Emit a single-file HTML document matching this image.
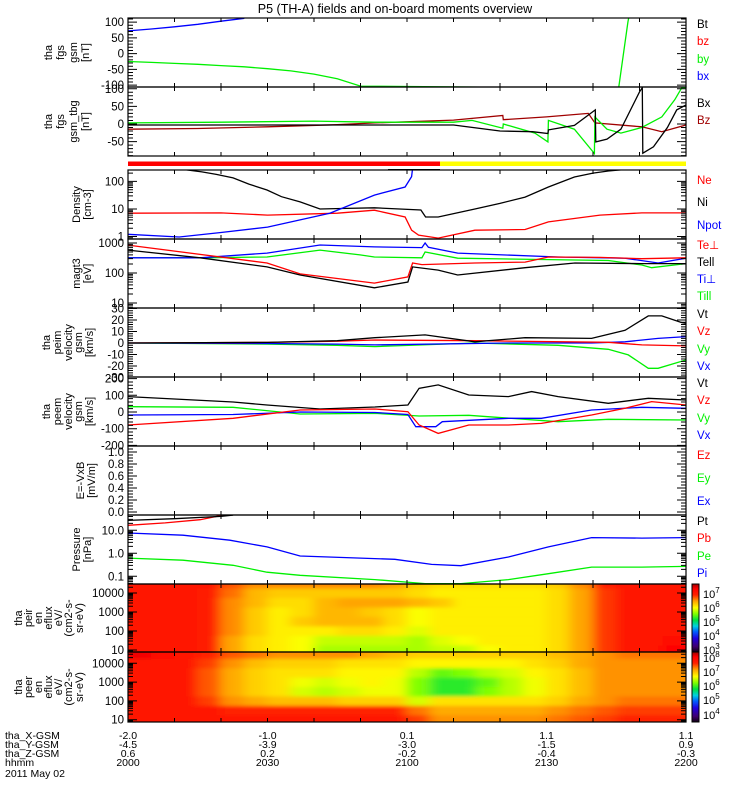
<!DOCTYPE html>
<html><head><meta charset="utf-8">
<style>
html,body{margin:0;padding:0;background:#fff;}
svg{display:block;font-family:"Liberation Sans",sans-serif;}
</style></head>
<body>
<svg id="chart" width="750" height="800" viewBox="0 0 750 800" xmlns="http://www.w3.org/2000/svg">
<defs>
<filter id="blur" x="-5%" y="-5%" width="110%" height="110%"><feGaussianBlur stdDeviation="6 1.8"/></filter>
<linearGradient id="cmap" x1="0" y1="1" x2="0" y2="0">
<stop offset="0" stop-color="#100010"/><stop offset="0.08" stop-color="#400070"/><stop offset="0.2" stop-color="#2000e0"/>
<stop offset="0.3" stop-color="#0060ff"/><stop offset="0.38" stop-color="#00d0e0"/><stop offset="0.47" stop-color="#00e040"/>
<stop offset="0.56" stop-color="#80ff00"/><stop offset="0.65" stop-color="#ffff00"/><stop offset="0.75" stop-color="#ffa000"/>
<stop offset="0.84" stop-color="#ff2000"/><stop offset="0.93" stop-color="#ff0000"/><stop offset="1" stop-color="#a00000"/>
</linearGradient>
</defs>
<text x="395" y="13" font-size="12.5" text-anchor="middle">P5 (TH-A) fields and on-board moments overview</text>
</svg>
<script>
// ---------- data ----------
const fgsBxT=[0,5,10,15,20,25];
const fgsBxV=[72,78,85,93,103,112];
const fgsByT=[0,5,10,15,20,25,30,35,40,45,50,105.5,107.5,110];
const fgsByV=[-25,-28,-31,-34,-38,-42,-48,-55,-65,-80,-103,-110,100,300];

const tbgBxT=[0,40,53,70,80,87,90.3,90.4,96,100.5,100.6,103,106,110,110.6,110.7,113,116,118,120];
const tbgBxV=[-3,-3,-3,-3,-20,-22,-27,-17,-4,40,-51,-43,-15,91,103,-83,-65,-10,40,54];
const tbgByT=[0,20,40,53,70,74,80.6,80.7,87.5,90.3,90.4,96,100.3,100.4,103,106,110.5,114.8,117.6,119.1,120];
const tbgByV=[3,5,8,5,5,10,-12,0,-26,-51,10,-15,-84,20,-15,-26,-10,20,69,103,103];
const tbgBzT=[0,15,30,45,53,70,80.6,80.7,90,99,100.4,110.5,114.8,120];
const tbgBzV=[-15,-13,-8,-2,3,11,24,12,20,30,3,-8,-22,-3];

const niT=[0,15.9,19,22.6,26,29.9,33,37,41.3,47,53,63,64,66.7,74.6,80,85.4,90.4,96,100,103.3,106,120];
const niV=[500,222,180,134,80,49,28,18,10,10.5,11,9.2,5.1,5.1,10,16,27,63,145,200,240,265,265];
const neT=[0,20,30,45,53,59.6,61,62.5,66.7,74.6,85.4,90.4,101.5,110.5,120];
const neV=[7,7.2,6,7,9,5.1,1.7,1.13,0.88,1.7,1.8,3.4,6,7.2,7.2];
const npT=[0,11,20,30,37,43.4,53,59.6,61,61.2];
const npV=[1.2,0.96,1.4,2.2,4,7,32,63,150,300];

const tePerpT=[0,29.9,37,53,60.2,61.2,63.2,74.6,85.4,90.4,101.5,110.5,120];
const tePerpV=[850,215,93,46,74,215,190,215,230,340,330,300,320];
const teParT=[0,15.5,29.9,37,53,60.2,61.2,66.7,70.9,85.4,96.1,110.5,120];
const teParV=[580,320,160,86,32,50,160,125,86,150,215,205,205];
const tiPerpT=[0,15.5,29.9,41.3,53,63.2,63.9,64.6,70.9,92.5,106.9,114,120];
const tiPerpV=[320,320,460,860,740,700,1000,720,460,340,310,215,310];
const tiParT=[0,15.5,29.9,41.3,49.9,53,63.2,63.9,70.9,103.3,110.5,112.6,120];
const tiParV=[320,320,340,580,400,340,320,500,310,260,185,150,205];

const iVtT=[0,30,45,53.1,63.9,74.6,85.4,99.7,106.9,111.9,114.8,119.1,120];
const iVtV=[0,0.5,2,4.6,7,1,4.6,4,11,23.5,23.5,17.7,17];
const iVzT=[0,30,45,53.1,74.6,103.3,110.5,120];
const iVzV=[0,0.5,1.5,2.6,2,0.6,-1.7,-2.6];
const iVxT=[0,30,45,53.1,81.8,99.7,106.9,114,120];
const iVxV=[0,-0.5,-1,-1.7,0,0,1,4,5.5];
const iVyT=[0,30,45,53.1,74.6,92.5,103.3,107.6,111.9,114,120];
const iVyV=[0,-1,-2,-3.2,0,-2,-5.5,-10.4,-22,-22,-14.8];

const eVtT=[0,22.6,29.9,41.3,53.1,60.2,62.6,66.7,73.3,81.8,86.8,92.5,103.3,111.9,120];
const eVtV=[92,60,42,18,30,42,142,162,102,92,122,92,52,82,72];
const eVyT=[0,22.6,37,53.1,62.6,73.3,92.5,103.3,120];
const eVyV=[32,28,-12,-8,-24,-20,-58,-44,-48];
const eVxT=[0,22.6,37,53.1,60.2,61.9,66.2,67.6,81.8,88.9,99.7,110.5,120];
const eVxV=[-18,-15,0,-3,-15,-88,-88,-58,-38,-38,12,28,22];
const eVzT=[0,22.6,37,53.1,60.2,62.6,66.7,73.3,81.8,88.9,99.7,106.9,112.6,120];
const eVzV=[-78,-38,12,18,2,-78,-128,-78,-78,-68,-18,22,62,42];

const ptT=[0,10,20,22.6];
const ptV=[27,32,40,46];
const pbT=[0,8,15.5,20.4];
const pbV=[16.5,21,29,46];
const piT=[0,11.8,21.9,29.9,37,53.1,57.4,65.3,71.6,81.8,90.4,99.7,110.5,120];
const piV=[7.6,6.1,3.7,1.9,0.76,0.59,0.55,0.33,0.29,0.69,1.9,4.8,4.6,4.8];
const peT=[0,11.8,22.6,29.9,37,53.1,63.9,71.6,81.8,90.4,99.7,110.5,120];
const peV=[0.62,0.5,0.3,0.15,0.11,0.072,0.048,0.048,0.072,0.13,0.25,0.25,0.27];

const specTimes=[2.5,7.5,12.5,17.5,22.5,27.5,32.5,37.5,42.5,47.5,52.5,57.5,62.5,67.5,72.5,77.5,82.5,87.5,92.5,97.5,102.5,107.5,112.5,117.5];
const specLogE=[1.0,1.5,2.0,2.5,3.0,3.5,4.0,4.5];
const ionFlux=[
[7,7,7,6.9,6.4,6.1,6.0,5.9,5.6,5.6,5.6,5.6,5.6,5.7,5.7,5.9,6.0,6.0,6.1,6.4,6.8,7.0,7.0,7.3],
[7,7,7,6.9,6.4,6.1,6.0,5.9,5.7,5.7,5.7,5.7,5.6,5.8,5.9,6.0,6.0,6.0,6.1,6.4,6.8,7.0,7.0,7.1],
[7,7,7,6.9,6.5,6.2,6.0,6.0,6.0,6.1,6.1,6.0,5.8,6.0,6.0,6.0,6.0,6.0,6.1,6.4,6.8,7.0,7.0,7.0],
[7,7,7,6.9,6.5,6.2,6.0,6.2,6.3,6.3,6.3,6.1,5.9,6.0,6.0,6.0,6.0,6.0,6.1,6.4,6.8,7.0,7.0,7.0],
[7,7,7,6.9,6.5,6.2,6.0,6.1,6.3,6.3,6.2,6.1,5.9,6.0,6.0,6.0,6.0,6.0,6.1,6.4,6.8,7.0,7.0,7.0],
[7,7,7,6.9,6.5,6.3,6.1,6.1,6.3,6.4,6.4,6.4,6.3,6.2,6.0,6.0,6.0,6.0,6.1,6.4,6.8,7.0,7.0,7.0],
[7,7,7,6.9,6.6,6.3,6.2,6.2,6.2,6.2,6.2,6.2,6.1,6.0,6.0,6.0,6.0,6.0,6.1,6.4,6.8,7.0,7.0,7.0],
[7,7,7,7,6.7,6.5,6.5,6.5,6.5,6.5,6.5,6.4,6.2,6.1,6.1,6.1,6.1,6.1,6.2,6.5,6.9,7.0,7.0,7.0]];
const eleFlux=[
[7.8,7.8,7.8,7.8,7.8,7.8,7.8,7.8,7.8,7.8,7.8,7.8,7.6,7.3,7.3,7.3,7.3,7.3,7.4,7.5,7.6,7.7,7.7,7.7],
[7.8,7.8,7.8,7.8,7.7,7.7,7.7,7.7,7.7,7.7,7.7,7.7,7.4,7.2,7.2,7.2,7.2,7.2,7.3,7.4,7.5,7.6,7.6,7.6],
[7.8,7.8,7.8,7.6,7.3,7.2,7.1,7.1,7.1,7.0,7.0,7.0,6.6,6.9,6.9,6.9,6.9,6.9,7.0,7.2,7.3,7.4,7.4,7.4],
[7.8,7.8,7.8,7.5,7.2,7.0,6.9,6.6,6.5,6.6,6.7,6.7,6.3,6.0,6.0,6.3,6.5,6.7,6.9,7.1,7.3,7.3,7.3,7.3],
[7.8,7.8,7.8,7.5,7.2,7.0,6.9,6.7,6.6,6.7,6.8,6.7,6.3,6.0,6.0,6.2,6.5,6.7,6.9,7.1,7.3,7.3,7.3,7.3],
[7.8,7.8,7.8,7.5,7.2,7.0,6.9,6.9,6.9,6.8,6.8,6.8,6.5,6.2,6.3,6.5,6.6,6.8,6.9,7.1,7.3,7.3,7.3,7.3],
[7.9,7.8,7.8,7.6,7.3,7.1,7.0,7.0,7.0,6.9,6.9,6.9,6.8,6.8,6.8,6.8,6.8,6.9,7.0,7.2,7.3,7.3,7.3,7.3],
[8.2,8.0,7.9,7.7,7.5,7.4,7.3,7.3,7.3,7.3,7.2,7.1,7.0,7.0,7.0,7.0,7.0,7.0,7.1,7.2,7.3,7.4,7.4,7.4]];

const xRowNames=['tha_X-GSM','tha_Y-GSM','tha_Z-GSM','hhmm'];
const xGsm=['-2.0','-1.0','0.1','1.1','1.1'];
const yGsm=['-4.5','-3.9','-3.0','-1.5','0.9'];
const zGsm=['0.6','0.2','-0.2','-0.4','-0.3'];
const hhmm=['2000','2030','2100','2130','2200'];

// ---------- layout ----------
const NS='http://www.w3.org/2000/svg';
const svg=document.getElementById('chart');
const X0=128,X1=686;
const xs=t=>X0+t/120*(X1-X0);
function mk(tag,attrs,parent){const e=document.createElementNS(NS,tag);for(const k in attrs)e.setAttribute(k,attrs[k]);(parent||svg).appendChild(e);return e;}

const panels=[
{id:'fgs-gsm',top:18,bot:87,log:false,min:-106,max:113,major:[-100,-50,0,50,100],lab:['-100','-50','0','50','100'],minor:10,yl:['tha','fgs','gsm','[nT]'],ylx:[52,64,77,89]},
{id:'fgs-gsm-tbg',top:87,bot:156,log:false,min:-91,max:105,major:[-50,0,50,100],lab:['-50','0','50','100'],minor:10,yl:['tha','fgs','gsm_tbg','[nT]'],ylx:[52,64,77,89]},
{id:'density',top:170,bot:239,log:true,min:-0.09,max:2.415,major:[0,1,2],lab:['1','10','100'],yl:['Density','[cm-3]'],ylx:[80,91]},
{id:'temperature',top:239,bot:308,log:true,min:0.833,max:3.133,major:[1,2,3],lab:['10','100','1000'],yl:['magt3','[eV]'],ylx:[80,91]},
{id:'peim-velocity',top:308,bot:377,log:false,min:-29.6,max:30.4,major:[-30,-20,-10,0,10,20,30],lab:['-30','-20','-10','0','10','20','30'],minor:2,yl:['tha','peim','velocity','gsm','[km/s]'],ylx:[50,61,72,82,93]},
{id:'peem-velocity',top:377,bot:446,log:false,min:-203.6,max:209.6,major:[-200,-100,0,100,200],lab:['-200','-100','0','100','200'],minor:20,yl:['tha','peem','velocity','gsm','[km/s]'],ylx:[50,61,72,82,93]},
{id:'efield',top:446,bot:515,log:false,min:-0.05,max:1.1,major:[0,0.2,0.4,0.6,0.8,1.0],lab:['0.0','0.2','0.4','0.6','0.8','1.0'],minor:0.05,yl:['E=-VxB','[mV/m]'],ylx:[84,95]},
{id:'pressure',top:515,bot:584,log:true,min:-1.335,max:1.665,major:[-1,0,1],lab:['0.1','1.0','10.0'],yl:['Pressure','[nPa]'],ylx:[80,91]},
{id:'ion-spectrogram',top:584,bot:652,log:true,min:0.895,max:4.474,major:[1,2,3,4],lab:['10','100','1000','10000'],yl:['tha','peir','en','eflux','eV/','(cm2-s-','sr-eV)'],ylx:[22,32,42,52,62,72,83]},
{id:'electron-spectrogram',top:652,bot:722,log:true,min:0.88,max:4.6,major:[1,2,3,4],lab:['10','100','1000','10000'],yl:['tha','peer','en','eflux','eV/','(cm2-s-','sr-eV)'],ylx:[22,32,42,52,62,72,83]}
];
panels.forEach(p=>{p.y=v=>{const q=p.log?Math.log10(v):v;return p.bot-(q-p.min)/(p.max-p.min)*(p.bot-p.top);};p.yl10=q=>p.bot-(q-p.min)/(p.max-p.min)*(p.bot-p.top);});

const defs=svg.querySelector('defs');
panels.forEach(p=>{const c=mk('clipPath',{id:'clip-'+p.id},defs);mk('rect',{x:X0,y:p.top,width:X1-X0,height:p.bot-p.top},c);});

function cmapColor(f){
  const st=[[0,16,0,16],[0.08,64,0,112],[0.2,32,0,224],[0.3,0,96,255],[0.38,0,208,224],[0.47,0,224,64],[0.56,128,255,0],[0.65,255,255,0],[0.75,255,160,0],[0.84,255,32,0],[0.93,255,0,0],[1,160,0,0]];
  f=Math.max(0,Math.min(1,f));
  for(let i=1;i<st.length;i++){if(f<=st[i][0]){const a=st[i-1],b=st[i];const u=(f-a[0])/(b[0]-a[0]);return 'rgb('+[1,2,3].map(k=>Math.round(a[k]+(b[k]-a[k])*u)).join(',')+')';}}
  return 'rgb(160,0,0)';
}
function drawSpec(p,flux,lo,hi,name){
  const outer=mk('g',{'clip-path':'url(#clip-'+p.id+')'});
  
  
  const g=mk('g',{filter:'url(#blur)'},outer);
  flux.forEach((row,r)=>{
    row.forEach((v,c)=>{
      const t=specTimes[c];
      const ta=c===0?-8:t-2.6, tb=c===row.length-1?128:t+2.6;
      const ya=p.yl10(specLogE[r]+0.26), yb=p.yl10(specLogE[r]-0.26);
      const rc=mk('rect',{x:xs(ta),y:ya-(r===specLogE.length-1?8:0),width:xs(tb)-xs(ta),height:yb-ya+(r===0?8:0)+(r===specLogE.length-1?8:0),fill:cmapColor((v-lo)/(hi-lo))},g);
      
      
    });
  });
}
drawSpec(panels[8],ionFlux,2.6,7.7,'ion-energy-flux-spectrogram');
drawSpec(panels[9],eleFlux,3.5,8.5,'electron-energy-flux-spectrogram');

const barRed=mk('rect',{x:X0,y:161.5,width:440-X0,height:4.5,fill:'#ff0000'});


const barYel=mk('rect',{x:440,y:161.5,width:X1-440,height:4.5,fill:'#ffff00'});


const barBl=mk('line',{x1:388,x2:440,y1:169.5,y2:169.5,stroke:'#000','stroke-width':1});



function series(pi,ts,vs,color,name){
  const p=panels[pi];
  const pts=ts.map((t,i)=>xs(t).toFixed(1)+','+p.y(vs[i]).toFixed(1)).join(' ');
  const l=mk('polyline',{points:pts,fill:'none',stroke:color,'stroke-width':1.3,'clip-path':'url(#clip-'+p.id+')'});
  
  
}
const RED='#ff0000',GRN='#00f000',BLU='#0000ff',BLK='#000000',DRD='#a00000';
series(0,fgsBxT,fgsBxV,BLU,'bx-line');
series(0,fgsByT,fgsByV,GRN,'by-line');
series(1,tbgBzT,tbgBzV,DRD,'tbg-bz-line');
series(1,tbgByT,tbgByV,GRN,'tbg-by-line');
series(1,tbgBxT,tbgBxV,BLK,'tbg-bx-line');
series(2,niT,niV,BLK,'ni-line');
series(2,neT,neV,RED,'ne-line');
series(2,npT,npV,BLU,'npot-line');
series(3,tiParT,tiParV,GRN,'ti-par-line');
series(3,tiPerpT,tiPerpV,BLU,'ti-perp-line');
series(3,tePerpT,tePerpV,RED,'te-perp-line');
series(3,teParT,teParV,BLK,'te-par-line');
series(4,iVyT,iVyV,GRN,'ion-vy-line');
series(4,iVxT,iVxV,BLU,'ion-vx-line');
series(4,iVzT,iVzV,RED,'ion-vz-line');
series(4,iVtT,iVtV,BLK,'ion-vt-line');
series(5,eVtT,eVtV,BLK,'electron-vt-line');
series(5,eVyT,eVyV,GRN,'electron-vy-line');
series(5,eVxT,eVxV,BLU,'electron-vx-line');
series(5,eVzT,eVzV,RED,'electron-vz-line');
series(7,peT,peV,GRN,'pe-line');
series(7,piT,piV,BLU,'pi-line');
series(7,pbT,pbV,RED,'pb-line');
series(7,ptT,ptV,BLK,'pt-line');

panels.forEach(p=>{
  const g=mk('g',{});
  
  
  const fr=mk('rect',{x:X0,y:p.top,width:X1-X0,height:p.bot-p.top,fill:'none',stroke:'#000','stroke-width':1.2},g);
  
  
  const tk=[];
  for(let m=0;m<=120;m+=10){tk.push(['M',xs(m),p.top,'v',4,'M',xs(m),p.bot,'v',-4].join(' '));}
  const ys=[],ym=[];
  if(p.log){
    for(let d=Math.floor(p.min);d<=Math.ceil(p.max);d++){
      if(d>=p.min&&d<=p.max)ys.push(p.yl10(d));
      for(let k=2;k<10;k++){const q=d+Math.log10(k);if(q>=p.min&&q<=p.max)ym.push(p.yl10(q));}
    }
  } else {
    p.major.forEach(v=>{if(v>=p.min&&v<=p.max)ys.push(p.y(v));});
    for(let v=Math.ceil(p.min/p.minor)*p.minor;v<=p.max;v+=p.minor)ym.push(p.y(v));
  }
  ys.forEach(y=>tk.push(['M',X0,y,'h',9,'M',X1,y,'h',-9].join(' ')));
  ym.forEach(y=>tk.push(['M',X0,y,'h',5,'M',X1,y,'h',-5].join(' ')));
  const path=mk('path',{d:tk.join(' '),stroke:'#000','stroke-width':1,fill:'none'},g);
  
  
  p.major.forEach((v,i)=>{
    const y=p.log?p.yl10(v):p.y(v);
    const t=mk('text',{x:124,y:y+4,'font-size':11.5,'text-anchor':'end'},g);
    t.textContent=p.lab[i];
    
    
  });
  const cy=(p.top+p.bot)/2;
  p.yl.forEach((s,i)=>{
    const x=p.ylx[i];
    const t=mk('text',{x:x,y:cy,'font-size':11,'text-anchor':'middle',transform:'rotate(-90 '+x+' '+cy+')'},g);
    t.textContent=s;
    
    
  });
});

const legends=[
[['Bt',BLK,24],['bz',RED,41],['by',GRN,59],['bx',BLU,76]],
[['Bx',BLK,103],['Bz',DRD,120]],
[['Ne',RED,180],['Ni',BLK,202],['Npot',BLU,225]],
[['Te⊥',RED,245],['Tell',BLK,262],['Ti⊥',BLU,279],['Till',GRN,296]],
[['Vt',BLK,314],['Vz',RED,331],['Vy',GRN,349],['Vx',BLU,366]],
[['Vt',BLK,383],['Vz',RED,400],['Vy',GRN,418],['Vx',BLU,435]],
[['Ez',RED,455],['Ey',GRN,478],['Ex',BLU,501]],
[['Pt',BLK,521],['Pb',RED,538],['Pe',GRN,556],['Pi',BLU,573]]];
legends.forEach(L=>L.forEach(e=>{
  const t=mk('text',{x:697,y:e[2]+4,'font-size':11.5,fill:e[1]});
  t.textContent=e[0];
  
  
}));

function colorbar(top,bot,exps,ypos,name){
  const r=mk('rect',{x:692,y:top,width:7,height:bot-top,fill:'url(#cmap)',stroke:'#000','stroke-width':1});
  
  
  exps.forEach((e,i)=>{
    const t=mk('text',{x:703,y:ypos[i]+4,'font-size':11});
    t.textContent='10';
    const s=mk('tspan',{dy:-5,'font-size':8},t);
    s.textContent=String(e);
    
    
  });
}
colorbar(584,652,[7,6,5,4,3],[594,608,622,636,650],'ion-colorbar');
colorbar(652,722,[8,7,6,5,4],[658,672,686,700,715],'electron-colorbar');

const rowsY=[735,744,753,762];
const rowsVals=[xGsm,yGsm,zGsm,hhmm];
xRowNames.forEach((n,r)=>{
  const t=mk('text',{x:5,y:rowsY[r]+4,'font-size':10.5});
  t.textContent=n;
  
  
  rowsVals[r].forEach((v,i)=>{
    const tt=mk('text',{x:xs(i*30),y:rowsY[r]+4,'font-size':10.5,'text-anchor':'middle'});
    tt.textContent=v;
    
    
  });
});
const dt=mk('text',{x:5,y:777,'font-size':10.5});
dt.textContent='2011 May 02';


</script>
</body></html>
